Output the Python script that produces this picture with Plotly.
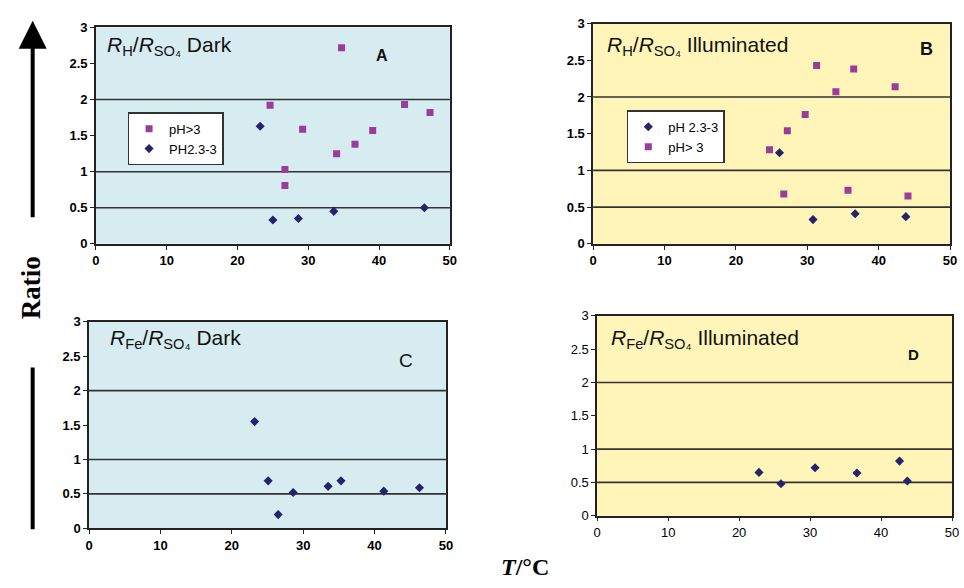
import plotly.graph_objects as go

# ---------------- data ----------------
# Panel A: R_H/R_SO4 Dark
A_hi_T = [24.6, 26.7, 26.7, 29.2, 34.7, 34.0, 36.6, 39.1, 43.6, 47.2]
A_hi_R = [1.92, 1.03, 0.81, 1.59, 2.72, 1.25, 1.38, 1.57, 1.93, 1.82]
A_lo_T = [23.2, 25.0, 28.6, 33.6, 46.4]
A_lo_R = [1.63, 0.33, 0.35, 0.45, 0.50]

# Panel B: R_H/R_SO4 Illuminated
B_hi_T = [24.7, 27.2, 26.7, 29.7, 31.3, 34.0, 36.5, 35.7, 42.3, 44.1]
B_hi_R = [1.28, 1.54, 0.68, 1.76, 2.43, 2.07, 2.38, 0.73, 2.14, 0.65]
B_lo_T = [26.1, 30.8, 36.7, 43.8]
B_lo_R = [1.24, 0.33, 0.41, 0.37]

# Panel C: R_Fe/R_SO4 Dark
C_T = [23.2, 25.1, 26.5, 28.6, 33.5, 35.3, 41.3, 46.3]
C_R = [1.55, 0.69, 0.20, 0.52, 0.61, 0.69, 0.54, 0.59]

# Panel D: R_Fe/R_SO4 Illuminated
D_T = [22.8, 25.9, 30.7, 36.6, 42.6, 43.7]
D_R = [0.65, 0.48, 0.72, 0.64, 0.82, 0.52]

X_TICKS = [0, 10, 20, 30, 40, 50]
Y_TICKS = [0, 0.5, 1, 1.5, 2, 2.5, 3]
REF_LINES = [0.5, 1, 2]

LEG_A = ["pH>3", "PH2.3-3"]
LEG_B = ["pH 2.3-3", "pH> 3"]

# ---------------- style ----------------
W, H = 964, 588
BLUE_BG = "#d6ecf1"
YELLOW_BG = "#fff5b9"
SQ_COL = "#9a3d9a"
DI_COL = "#23236e"
SANS = "Liberation Sans"
SERIF = "Liberation Serif"


def px_x(a, b):
    return [a / W, b / W]


def px_y(top, bottom):
    return [1 - bottom / H, 1 - top / H]


panels = {
    "A": dict(x=px_x(93, 451), y=px_y(21, 243), bg=BLUE_BG, bold=True),
    "B": dict(x=px_x(596, 957), y=px_y(17, 243), bg=YELLOW_BG, bold=True),
    "C": dict(x=px_x(86, 447), y=px_y(323, 535), bg=BLUE_BG, bold=True),
    "D": dict(x=px_x(600, 959), y=px_y(317, 522), bg=YELLOW_BG, bold=False),
}
axis_ids = {"A": ("x", "y"), "B": ("x2", "y2"), "C": ("x3", "y3"), "D": ("x4", "y4")}

fig = go.Figure()

sq = dict(symbol="square", size=7, color=SQ_COL)
di = dict(symbol="diamond", size=7, color=DI_COL)

# A
fig.add_trace(go.Scatter(x=A_hi_T, y=A_hi_R, mode="markers", marker=sq, name=LEG_A[0],
                         xaxis="x", yaxis="y", legend="legend"))
fig.add_trace(go.Scatter(x=A_lo_T, y=A_lo_R, mode="markers", marker=di, name=LEG_A[1],
                         xaxis="x", yaxis="y", legend="legend"))
# B
fig.add_trace(go.Scatter(x=B_lo_T, y=B_lo_R, mode="markers", marker=di, name=LEG_B[0],
                         xaxis="x2", yaxis="y2", legend="legend2"))
fig.add_trace(go.Scatter(x=B_hi_T, y=B_hi_R, mode="markers", marker=sq, name=LEG_B[1],
                         xaxis="x2", yaxis="y2", legend="legend2"))
# C
fig.add_trace(go.Scatter(x=C_T, y=C_R, mode="markers", marker=di, showlegend=False,
                         xaxis="x3", yaxis="y3"))
# D
fig.add_trace(go.Scatter(x=D_T, y=D_R, mode="markers", marker=di, showlegend=False,
                         xaxis="x4", yaxis="y4"))

fig.update_layout(
    width=W, height=H, margin=dict(l=0, r=0, t=0, b=0),
    paper_bgcolor="white", plot_bgcolor="white",
    font=dict(family=SANS, color="black"),
)

shapes = []
annotations = []
for key, p in panels.items():
    xa, ya = axis_ids[key]
    xname = "xaxis" + xa[1:]
    yname = "yaxis" + ya[1:]
    tf = dict(family=SANS, size=13, color="black",
              weight="bold" if p["bold"] else "normal")
    common = dict(showline=True, linecolor="#222", linewidth=1.6, mirror=True,
                  ticks="outside", ticklen=4, tickcolor="#222", tickwidth=1.3,
                  showgrid=False, zeroline=False, fixedrange=True)
    fig.update_layout({xname: dict(domain=p["x"], range=[0, 50], tickmode="array",
                                   tickvals=X_TICKS, anchor=ya, **common),
                       yname: dict(domain=p["y"], range=[0, 3], tickmode="array",
                                   tickvals=Y_TICKS, anchor=xa, **common)})
    fig.layout[xname].tickfont = tf
    fig.layout[yname].tickfont = tf
    shapes.append(dict(type="rect", xref=xa + " domain", yref=ya + " domain",
                       x0=0, x1=1, y0=0, y1=1, fillcolor=p["bg"],
                       line=dict(width=0), layer="below"))
    for r in REF_LINES:
        shapes.append(dict(type="line", xref=xa + " domain", yref=ya,
                           x0=0, x1=1, y0=r, y1=r,
                           line=dict(color="#333", width=1.6), layer="below"))

titles = [
    ("<i>R</i><sub>H</sub>/<i>R</i><sub>SO₄</sub> Dark", 102, 40),
    ("<i>R</i><sub>H</sub>/<i>R</i><sub>SO₄</sub> Illuminated", 608, 40),
    ("<i>R</i><sub>Fe</sub>/<i>R</i><sub>SO₄</sub> Dark", 105, 341),
    ("<i>R</i><sub>Fe</sub>/<i>R</i><sub>SO₄</sub> Illuminated", 612, 341),
]
for txt, x, y in titles:
    annotations.append(dict(text=txt, x=x / W, y=1 - y / H, xref="paper", yref="paper",
                            xanchor="left", yanchor="middle", showarrow=False,
                            font=dict(family=SANS, size=21, color="#111")))

letters = [("<b>A</b>", 382, 50, 16), ("<b>B</b>", 933, 43, 18),
           ("C", 407, 363, 19), ("<b>D</b>", 920, 357, 15)]
for t, x, y, s in letters:
    annotations.append(dict(text=t, x=x / W, y=1 - y / H, xref="paper", yref="paper",
                            xanchor="center", yanchor="middle", showarrow=False,
                            font=dict(family=SANS, size=s, color="#111")))

annotations.append(dict(text="<b>Ratio</b>", x=27 / W, y=1 - 288 / H, xref="paper", yref="paper",
                        textangle=-90, showarrow=False, xanchor="center", yanchor="middle",
                        font=dict(family=SERIF, size=27, color="black")))
annotations.append(dict(text="<b><i>T</i>/°C</b>", x=527 / W, y=1 - 575 / H, xref="paper", yref="paper",
                        showarrow=False, xanchor="center", yanchor="middle",
                        font=dict(family=SERIF, size=24, color="black")))
annotations.append(dict(text="", x=29 / W, y=1 - 14 / H, ax=0, ay=198,
                        xref="paper", yref="paper", axref="pixel", ayref="pixel",
                        showarrow=True, arrowhead=2, arrowsize=1.4, arrowwidth=4,
                        arrowcolor="black"))
shapes.append(dict(type="line", xref="paper", yref="paper",
                   x0=29 / W, x1=29 / W, y0=1 - 370 / H, y1=1 - 536 / H,
                   line=dict(color="black", width=4)))

leg_common = dict(bgcolor="white", bordercolor="#333", borderwidth=1.5,
                  font=dict(family=SANS, size=13, color="black"),
                  xanchor="left", yanchor="top", itemwidth=30, tracegroupgap=0,
                  itemclick=False, itemdoubleclick=False)

fig.update_layout(shapes=shapes, annotations=annotations,
                  legend=dict(x=125 / W, y=1 - 108 / H, **leg_common),
                  legend2=dict(x=630 / W, y=1 - 106 / H, **leg_common))

fig.write_html("out.html")
